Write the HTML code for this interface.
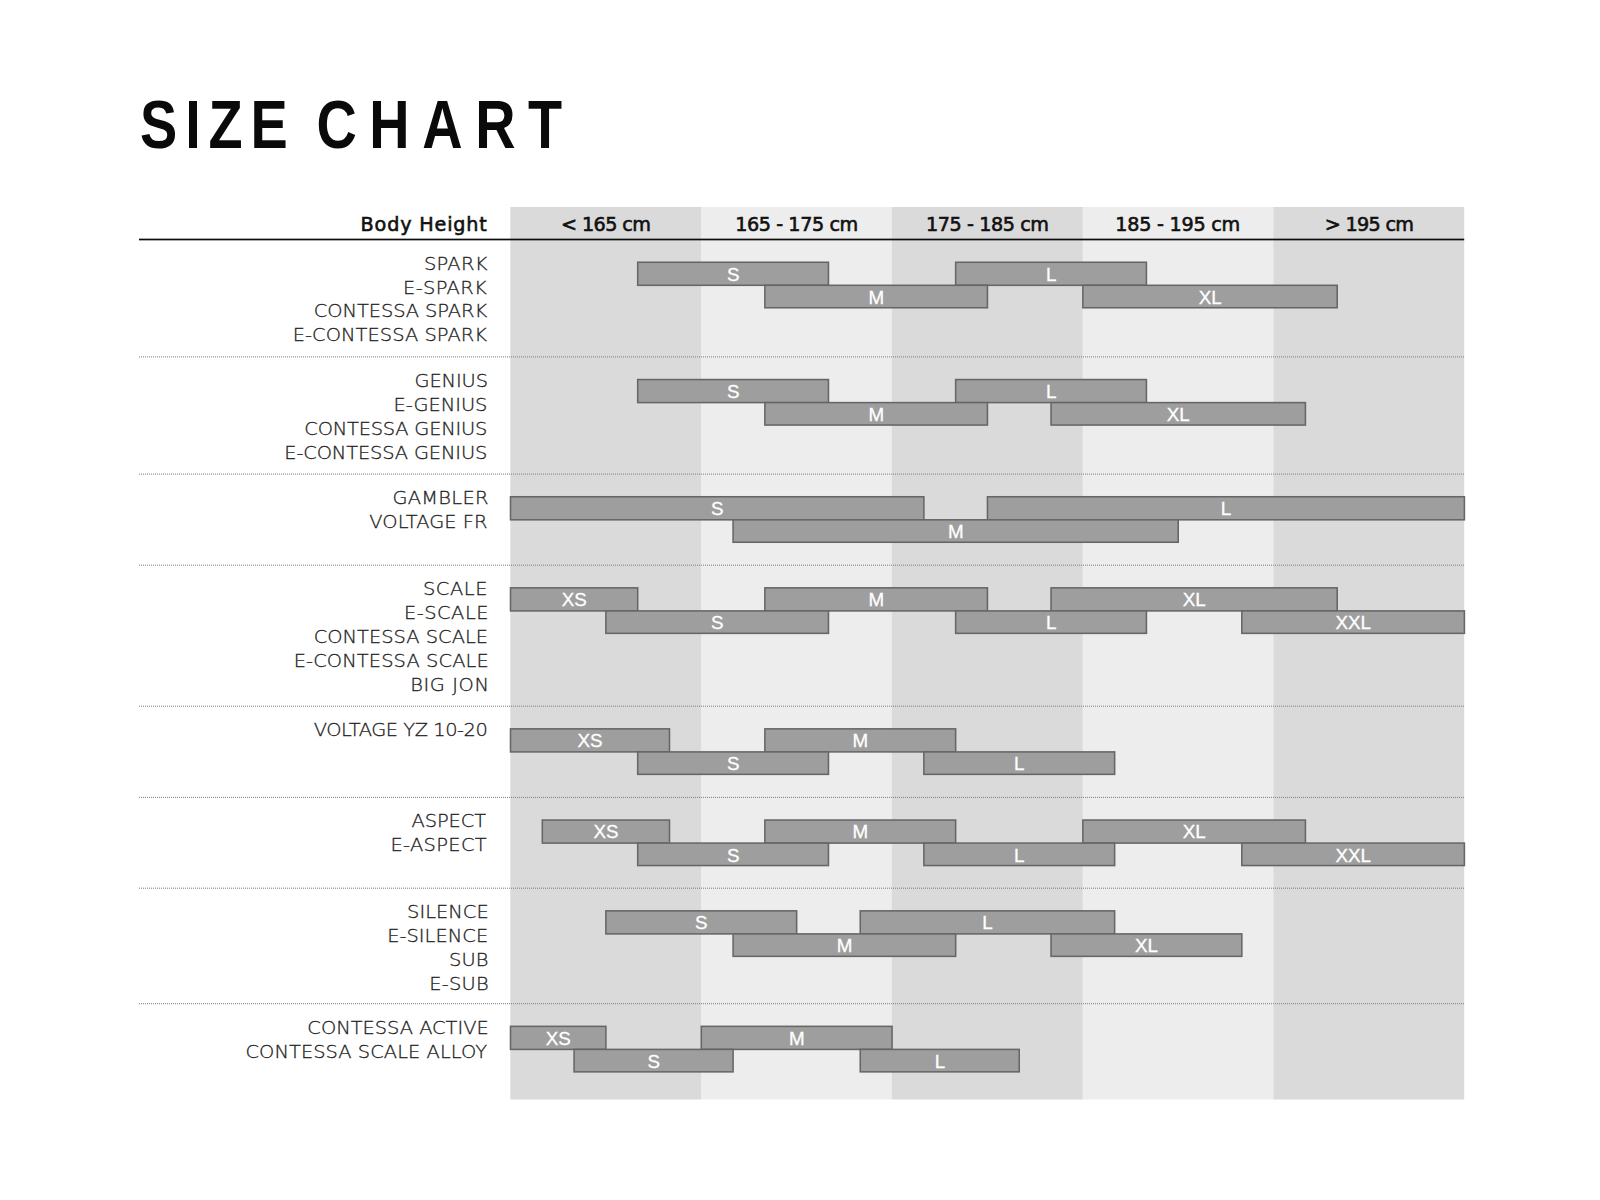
<!DOCTYPE html>
<html lang="en">
<head>
<meta charset="utf-8">
<title>Size Chart</title>
<style>
html,body{margin:0;padding:0;background:#fff;}
body{width:1600px;height:1200px;position:relative;overflow:hidden;font-family:"Liberation Sans",sans-serif;}
svg.g{position:absolute;left:0;top:0;}
.title{position:absolute;left:139.50000000000006px;top:89.74999999999999px;font-weight:bold;font-size:68px;line-height:68px;color:#0a0a0a;white-space:nowrap;transform-origin:0 0;transform:scaleX(0.82);}
.hd{position:absolute;top:207px;height:32px;line-height:36px;text-align:center;font-family:"DejaVu Sans","Liberation Sans",sans-serif;font-size:19.2px;letter-spacing:-0.7px;color:#111;-webkit-text-stroke:0.6px #111;white-space:nowrap;}
.bh{position:absolute;right:1112.3px;top:207px;height:32px;line-height:36px;font-family:"DejaVu Sans","Liberation Sans",sans-serif;font-size:19.2px;letter-spacing:0.83px;color:#111;-webkit-text-stroke:0.6px #111;white-space:nowrap;}
.lab{position:absolute;right:1113.2px;height:24px;line-height:24px;white-space:nowrap;color:#222;font-family:"DejaVu Sans Light","DejaVu Sans","Liberation Sans",sans-serif;font-weight:200;font-size:18.5px;transform-origin:100% 50%;transform:scaleX(1.05);-webkit-text-stroke:0.3px #222;}
.bl{font-family:"Liberation Sans",sans-serif;font-size:18.8px;fill:#fff;stroke:#fff;stroke-width:0.3px;text-anchor:middle;}
</style>
</head>
<body>
<svg class="g" width="1600" height="1200" viewBox="0 0 1600 1200">
<rect x="510.30" y="207.00" width="191.08" height="892.50" fill="#dadada"/>
<rect x="701.08" y="207.00" width="191.08" height="892.50" fill="#ededed"/>
<rect x="891.86" y="207.00" width="191.08" height="892.50" fill="#dadada"/>
<rect x="1082.64" y="207.00" width="191.08" height="892.50" fill="#ededed"/>
<rect x="1273.42" y="207.00" width="190.78" height="892.50" fill="#dadada"/>
<rect x="139" y="238.65" width="1325.20" height="1.7" fill="#0c0c0c"/>
<line x1="139" x2="1464.20" y1="356.90" y2="356.90" stroke="#7c7c7c" stroke-width="1" stroke-dasharray="1 1"/>
<line x1="139" x2="1464.20" y1="474.10" y2="474.10" stroke="#7c7c7c" stroke-width="1" stroke-dasharray="1 1"/>
<line x1="139" x2="1464.20" y1="565.20" y2="565.20" stroke="#7c7c7c" stroke-width="1" stroke-dasharray="1 1"/>
<line x1="139" x2="1464.20" y1="706.20" y2="706.20" stroke="#7c7c7c" stroke-width="1" stroke-dasharray="1 1"/>
<line x1="139" x2="1464.20" y1="797.40" y2="797.40" stroke="#7c7c7c" stroke-width="1" stroke-dasharray="1 1"/>
<line x1="139" x2="1464.20" y1="888.20" y2="888.20" stroke="#7c7c7c" stroke-width="1" stroke-dasharray="1 1"/>
<line x1="139" x2="1464.20" y1="1003.70" y2="1003.70" stroke="#7c7c7c" stroke-width="1" stroke-dasharray="1 1"/>
<rect x="637.69" y="262.25" width="190.78" height="23.05" fill="#9e9e9e" stroke="#666" stroke-width="1.55"/><text class="bl" x="733.18" y="280.65">S</text>
<rect x="955.65" y="262.25" width="190.78" height="23.05" fill="#9e9e9e" stroke="#666" stroke-width="1.55"/><text class="bl" x="1051.14" y="280.65">L</text>
<rect x="764.87" y="285.30" width="222.58" height="22.45" fill="#9e9e9e" stroke="#666" stroke-width="1.55"/><text class="bl" x="876.26" y="303.70">M</text>
<rect x="1082.84" y="285.30" width="254.37" height="22.45" fill="#9e9e9e" stroke="#666" stroke-width="1.55"/><text class="bl" x="1210.13" y="303.70">XL</text>
<rect x="637.69" y="379.55" width="190.78" height="23.05" fill="#9e9e9e" stroke="#666" stroke-width="1.55"/><text class="bl" x="733.18" y="397.95">S</text>
<rect x="955.65" y="379.55" width="190.78" height="23.05" fill="#9e9e9e" stroke="#666" stroke-width="1.55"/><text class="bl" x="1051.14" y="397.95">L</text>
<rect x="764.87" y="402.60" width="222.58" height="22.45" fill="#9e9e9e" stroke="#666" stroke-width="1.55"/><text class="bl" x="876.26" y="421.00">M</text>
<rect x="1051.04" y="402.60" width="254.37" height="22.45" fill="#9e9e9e" stroke="#666" stroke-width="1.55"/><text class="bl" x="1178.33" y="421.00">XL</text>
<rect x="510.50" y="496.75" width="413.36" height="23.05" fill="#9e9e9e" stroke="#666" stroke-width="1.55"/><text class="bl" x="717.28" y="515.15">S</text>
<rect x="987.45" y="496.75" width="476.95" height="23.05" fill="#9e9e9e" stroke="#666" stroke-width="1.55"/><text class="bl" x="1226.02" y="515.15">L</text>
<rect x="733.08" y="519.80" width="445.15" height="22.45" fill="#9e9e9e" stroke="#666" stroke-width="1.55"/><text class="bl" x="955.75" y="538.20">M</text>
<rect x="510.50" y="587.85" width="127.19" height="23.05" fill="#9e9e9e" stroke="#666" stroke-width="1.55"/><text class="bl" x="574.19" y="606.25">XS</text>
<rect x="764.87" y="587.85" width="222.58" height="23.05" fill="#9e9e9e" stroke="#666" stroke-width="1.55"/><text class="bl" x="876.26" y="606.25">M</text>
<rect x="1051.04" y="587.85" width="286.17" height="23.05" fill="#9e9e9e" stroke="#666" stroke-width="1.55"/><text class="bl" x="1194.23" y="606.25">XL</text>
<rect x="605.89" y="610.90" width="222.58" height="22.45" fill="#9e9e9e" stroke="#666" stroke-width="1.55"/><text class="bl" x="717.28" y="629.30">S</text>
<rect x="955.65" y="610.90" width="190.78" height="22.45" fill="#9e9e9e" stroke="#666" stroke-width="1.55"/><text class="bl" x="1051.14" y="629.30">L</text>
<rect x="1241.82" y="610.90" width="222.58" height="22.45" fill="#9e9e9e" stroke="#666" stroke-width="1.55"/><text class="bl" x="1353.21" y="629.30">XXL</text>
<rect x="510.50" y="728.85" width="158.98" height="23.05" fill="#9e9e9e" stroke="#666" stroke-width="1.55"/><text class="bl" x="590.09" y="747.25">XS</text>
<rect x="764.87" y="728.85" width="190.78" height="23.05" fill="#9e9e9e" stroke="#666" stroke-width="1.55"/><text class="bl" x="860.36" y="747.25">M</text>
<rect x="637.69" y="751.90" width="190.78" height="22.45" fill="#9e9e9e" stroke="#666" stroke-width="1.55"/><text class="bl" x="733.18" y="770.30">S</text>
<rect x="923.86" y="751.90" width="190.78" height="22.45" fill="#9e9e9e" stroke="#666" stroke-width="1.55"/><text class="bl" x="1019.35" y="770.30">L</text>
<rect x="542.30" y="820.05" width="127.19" height="23.05" fill="#9e9e9e" stroke="#666" stroke-width="1.55"/><text class="bl" x="605.99" y="838.45">XS</text>
<rect x="764.87" y="820.05" width="190.78" height="23.05" fill="#9e9e9e" stroke="#666" stroke-width="1.55"/><text class="bl" x="860.36" y="838.45">M</text>
<rect x="1082.84" y="820.05" width="222.58" height="23.05" fill="#9e9e9e" stroke="#666" stroke-width="1.55"/><text class="bl" x="1194.23" y="838.45">XL</text>
<rect x="637.69" y="843.10" width="190.78" height="22.45" fill="#9e9e9e" stroke="#666" stroke-width="1.55"/><text class="bl" x="733.18" y="861.50">S</text>
<rect x="923.86" y="843.10" width="190.78" height="22.45" fill="#9e9e9e" stroke="#666" stroke-width="1.55"/><text class="bl" x="1019.35" y="861.50">L</text>
<rect x="1241.82" y="843.10" width="222.58" height="22.45" fill="#9e9e9e" stroke="#666" stroke-width="1.55"/><text class="bl" x="1353.21" y="861.50">XXL</text>
<rect x="605.89" y="910.85" width="190.78" height="23.05" fill="#9e9e9e" stroke="#666" stroke-width="1.55"/><text class="bl" x="701.38" y="929.25">S</text>
<rect x="860.26" y="910.85" width="254.37" height="23.05" fill="#9e9e9e" stroke="#666" stroke-width="1.55"/><text class="bl" x="987.55" y="929.25">L</text>
<rect x="733.08" y="933.90" width="222.58" height="22.45" fill="#9e9e9e" stroke="#666" stroke-width="1.55"/><text class="bl" x="844.46" y="952.30">M</text>
<rect x="1051.04" y="933.90" width="190.78" height="22.45" fill="#9e9e9e" stroke="#666" stroke-width="1.55"/><text class="bl" x="1146.53" y="952.30">XL</text>
<rect x="510.50" y="1026.35" width="95.39" height="23.05" fill="#9e9e9e" stroke="#666" stroke-width="1.55"/><text class="bl" x="558.29" y="1044.75">XS</text>
<rect x="701.28" y="1026.35" width="190.78" height="23.05" fill="#9e9e9e" stroke="#666" stroke-width="1.55"/><text class="bl" x="796.77" y="1044.75">M</text>
<rect x="574.09" y="1049.40" width="158.98" height="22.45" fill="#9e9e9e" stroke="#666" stroke-width="1.55"/><text class="bl" x="653.68" y="1067.80">S</text>
<rect x="860.26" y="1049.40" width="158.98" height="22.45" fill="#9e9e9e" stroke="#666" stroke-width="1.55"/><text class="bl" x="939.86" y="1067.80">L</text>
</svg>
<div class="title" id="title"><span style="letter-spacing:9.703252032520302px;word-spacing:-3.455284552845482px">SIZE </span><span style="letter-spacing:15.445121951219582px">CHART</span></div>
<div class="bh" id="bh">Body Height</div>
<div class="hd" style="left:510.30px;width:190.78px;letter-spacing:-0.62px"><span id="hd0">&lt; 165 cm</span></div>
<div class="hd" style="left:701.08px;width:190.78px;letter-spacing:-0.42px"><span id="hd1">165 - 175 cm</span></div>
<div class="hd" style="left:891.86px;width:190.78px;letter-spacing:-0.42px"><span id="hd2">175 - 185 cm</span></div>
<div class="hd" style="left:1082.34px;width:190.78px;letter-spacing:-0.25px"><span id="hd3">185 - 195 cm</span></div>
<div class="hd" style="left:1273.62px;width:190.78px;letter-spacing:-0.72px"><span id="hd4">&gt; 195 cm</span></div>
<div class="lab" id="lab0" style="top:251.65px;right:1112.60px;letter-spacing:0.280px">SPARK</div>
<div class="lab" id="lab1" style="top:275.55px;right:1112.60px;letter-spacing:0.358px">E-SPARK</div>
<div class="lab" id="lab2" style="top:299.45px;right:1112.60px;letter-spacing:-0.069px">CONTESSA SPARK</div>
<div class="lab" id="lab3" style="top:323.35px;right:1112.60px;letter-spacing:0.040px">E-CONTESSA SPARK</div>
<div class="lab" id="lab4" style="top:368.95px;right:1112.60px;letter-spacing:-0.120px">GENIUS</div>
<div class="lab" id="lab5" style="top:392.85px;right:1112.60px;letter-spacing:-0.034px">E-GENIUS</div>
<div class="lab" id="lab6" style="top:416.75px;right:1112.60px;letter-spacing:-0.210px">CONTESSA GENIUS</div>
<div class="lab" id="lab7" style="top:440.65px;right:1112.60px;letter-spacing:-0.145px">E-CONTESSA GENIUS</div>
<div class="lab" id="lab8" style="top:486.15px;right:1111.60px;letter-spacing:0.269px">GAMBLER</div>
<div class="lab" id="lab9" style="top:510.05px;right:1112.60px;letter-spacing:0.036px">VOLTAGE FR</div>
<div class="lab" id="lab10" style="top:577.25px;right:1111.60px;letter-spacing:0.530px">SCALE</div>
<div class="lab" id="lab11" style="top:601.15px;right:1110.60px;letter-spacing:0.469px">E-SCALE</div>
<div class="lab" id="lab12" style="top:625.05px;right:1111.60px;letter-spacing:0.008px">CONTESSA SCALE</div>
<div class="lab" id="lab13" style="top:648.95px;right:1111.60px;letter-spacing:0.093px">E-CONTESSA SCALE</div>
<div class="lab" id="lab14" style="top:672.85px;right:1110.60px;letter-spacing:0.569px">BIG JON</div>
<div class="lab" id="lab15" style="top:718.25px;right:1112.60px;letter-spacing:-0.436px">VOLTAGE YZ 10-20</div>
<div class="lab" id="lab16" style="top:809.45px;right:1113.60px;letter-spacing:-0.080px">ASPECT</div>
<div class="lab" id="lab17" style="top:833.35px;right:1112.60px;letter-spacing:0.328px">E-ASPECT</div>
<div class="lab" id="lab18" style="top:900.25px;right:1111.60px;letter-spacing:0.013px">SILENCE</div>
<div class="lab" id="lab19" style="top:924.15px;right:1111.60px;letter-spacing:0.022px">E-SILENCE</div>
<div class="lab" id="lab20" style="top:948.05px;right:1111.60px;letter-spacing:0.080px">SUB</div>
<div class="lab" id="lab21" style="top:971.95px;right:1111.60px;letter-spacing:0.213px">E-SUB</div>
<div class="lab" id="lab22" style="top:1015.75px;right:1111.60px;letter-spacing:-0.025px">CONTESSA ACTIVE</div>
<div class="lab" id="lab23" style="top:1039.65px;right:1112.60px;letter-spacing:0.038px">CONTESSA SCALE ALLOY</div>
</body>
</html>
